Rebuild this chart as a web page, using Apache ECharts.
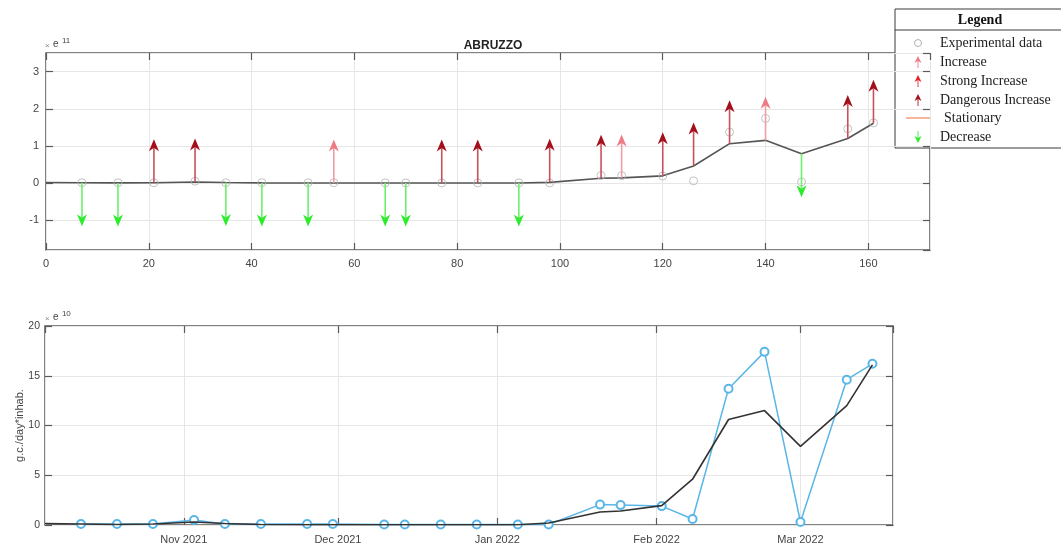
<!DOCTYPE html>
<html>
<head>
<meta charset="utf-8">
<title>ABRUZZO</title>
<script src="https://cdn.jsdelivr.net/npm/echarts@6/dist/echarts.min.js"></script>
<style>
  html, body { margin: 0; padding: 0; background: #fff; }
  #chart { width: 1061px; height: 548px; }
</style>
</head>
<body>
<div id="chart"></div>
<script>
// Sampling day 0 of the campaign
const START_DATE = Date.UTC(2021, 9, 5);
const END_DAY = 165;

// Sample days (days since start) with measured concentration, x 1e10 g.c./day*inhab.
const SAMPLE_DAYS = [7, 14, 21, 29, 35, 42, 51, 56, 66, 70, 77, 84, 92, 98, 108, 112, 120, 126, 133, 140, 147, 156, 161];
const MEASURED_E10 = [0.1, 0.1, 0.1, 0.5, 0.1, 0.1, 0.1, 0.1, 0.05, 0.05, 0.05, 0.05, 0.05, 0.05, 2.05, 2.0, 1.9, 0.6, 13.7, 17.4, 0.3, 14.6, 16.2];

// Smoothed trend, x 1e10
const TREND_DAYS = [0, 7, 14, 21, 29, 35, 42, 51, 56, 66, 70, 77, 84, 92, 98, 108, 112, 120, 126, 133, 140, 147, 156, 161];
const TREND_E10 = [0.15, 0.1, 0.05, 0.1, 0.3, 0.15, 0.05, 0.02, 0.02, 0.02, 0.02, 0.02, 0.02, 0.02, 0.2, 1.3, 1.4, 1.95, 4.6, 10.6, 11.5, 7.9, 12.0, 16.1];

// Trend classification at each sample day
const TREND_CLASS = ['Decrease', 'Decrease', 'Dangerous Increase', 'Dangerous Increase', 'Decrease', 'Decrease', 'Decrease',
  'Increase', 'Decrease', 'Decrease', 'Dangerous Increase', 'Dangerous Increase', 'Decrease', 'Dangerous Increase',
  'Dangerous Increase', 'Increase', 'Dangerous Increase', 'Dangerous Increase', 'Dangerous Increase', 'Increase',
  'Decrease', 'Dangerous Increase', 'Dangerous Increase'];

// Axis ticks
const TOP_X_TICKS = { min: 0, max: 172, interval: 20 };
const TOP_Y_RANGE = { min: -1.8, max: 3.5 };
const BOTTOM_Y_TICKS = { min: 0, max: 20, interval: 5 };

const LEGEND_ITEMS = ['Experimental data', 'Increase', 'Strong Increase', 'Dangerous Increase', 'Stationary', 'Decrease'];

// Arrow length on the classification panel, x 1e11
const ARROW_LEN = 1.17;

const DAY_MS = 86400000;
const toDate = d => START_DATE + d * DAY_MS;
const trendAt = d => TREND_E10[TREND_DAYS.indexOf(d)];

const ARROW_COLORS = {
  'Increase': { head: '#ee7c86', shaft: '#f29ca3' },
  'Strong Increase': { head: '#e3202c', shaft: '#e9616a' },
  'Dangerous Increase': { head: '#a30f1b', shaft: '#c8505a' },
  'Decrease': { head: '#2cec2c', shaft: '#6cf06c' }
};

function arrowSeries(name) {
  const data = [];
  SAMPLE_DAYS.forEach((d, i) => {
    if (TREND_CLASS[i] !== name) return;
    const base = trendAt(d) / 10;
    const tip = name === 'Decrease' ? base - ARROW_LEN : base + ARROW_LEN;
    data.push([d, base, tip]);
  });
  const col = ARROW_COLORS[name];
  return {
    name: name,
    type: 'custom',
    xAxisIndex: 0,
    yAxisIndex: 0,
    z: 5,
    data: data,
    encode: { x: 0, y: [1, 2] },
    renderItem: function (params, api) {
      const p0 = api.coord([api.value(0), api.value(1)]);
      const p1 = api.coord([api.value(0), api.value(2)]);
      const dir = p1[1] < p0[1] ? -1 : 1;
      const headLen = 12, halfW = 5, notch = 3.5;
      const bx = p1[0], by = p1[1] - dir * headLen;
      return {
        type: 'group',
        children: [
          { type: 'line', shape: { x1: p0[0], y1: p0[1], x2: bx, y2: by + dir * notch },
            style: { stroke: col.shaft, lineWidth: 1.6 } },
          { type: 'polygon', shape: { points: [
              [p1[0], p1[1]], [bx - halfW, by], [bx, by + dir * notch], [bx + halfW, by]] },
            style: { fill: col.head } }
        ]
      };
    }
  };
}

const axisFont = { fontFamily: 'Liberation Sans, Arial, sans-serif', fontSize: 11, color: '#444' };
const frameColor = '#5a5a5a';
const gridLine = { show: true, lineStyle: { color: '#e6e6e6', width: 1 } };
const hiddenLine = { show: false, onZero: false };
const innerTick = () => ({ show: true, inside: true, length: 7, lineStyle: { color: frameColor, width: 1.2 } });

const chart = echarts.init(document.getElementById('chart'), null, { renderer: 'canvas' });

// Legend drawn as a framed box with a header row
function legendGraphic() {
  const x0 = 895, y0 = 9, w = 172, h = 139;
  const rowY = [43, 62, 81, 100, 118, 137];
  const children = [
    { type: 'rect', shape: { x: x0, y: y0, width: w, height: h }, style: { fill: '#fff', stroke: '#3a3a3a', lineWidth: 1 } },
    { type: 'line', shape: { x1: x0, y1: 30, x2: x0 + w, y2: 30 }, style: { stroke: '#3a3a3a', lineWidth: 1 } },
    { type: 'text', x: 980, y: 20, style: { text: 'Legend', font: 'bold 14px "Liberation Serif", "Times New Roman", serif',
      fill: '#111', align: 'center', verticalAlign: 'middle' } }
  ];
  const ix = 918;
  function arrowIcon(cy, name, up) {
    const col = ARROW_COLORS[name];
    const s = up ? -1 : 1;
    const tipY = cy + s * 6, baseY = cy - s * 6;
    return [
      { type: 'line', shape: { x1: ix, y1: baseY, x2: ix, y2: tipY - s * 3 }, style: { stroke: col.shaft, lineWidth: 1.2 } },
      { type: 'polygon', shape: { points: [[ix, tipY], [ix - 3.5, tipY - s * 7], [ix, tipY - s * 5], [ix + 3.5, tipY - s * 7]] },
        style: { fill: col.head } }
    ];
  }
  children.push({ type: 'circle', shape: { cx: ix, cy: rowY[0], r: 3.5 }, style: { fill: 'none', stroke: '#b0b0b0', lineWidth: 1 } });
  children.push(...arrowIcon(rowY[1], 'Increase', true));
  children.push(...arrowIcon(rowY[2], 'Strong Increase', true));
  children.push(...arrowIcon(rowY[3], 'Dangerous Increase', true));
  children.push({ type: 'line', shape: { x1: 906, y1: rowY[4], x2: 931, y2: rowY[4] }, style: { stroke: '#f4a582', lineWidth: 1.6 } });
  children.push(...arrowIcon(rowY[5], 'Decrease', false));
  LEGEND_ITEMS.forEach((t, i) => {
    children.push({ type: 'text', x: t === 'Stationary' ? 944 : 940, y: rowY[i], style: {
      text: t, font: '14px "Liberation Serif", "Times New Roman", serif', fill: '#222', verticalAlign: 'middle' } });
  });
  return { type: 'group', z: 100, children: children };
}

function multiplierText(x, y, exp) {
  return {
    type: 'text', x: x, y: y, z: 50,
    style: {
      text: '{m|×} {e|e} {p|' + exp + '}',
      rich: {
        m: { fontSize: 8, fill: '#888', fontFamily: 'Liberation Sans, Arial, sans-serif', padding: [4, 0, 0, 0] },
        e: { fontSize: 10, fill: '#444', fontFamily: 'Liberation Sans, Arial, sans-serif' },
        p: { fontSize: 8, fill: '#444', fontFamily: 'Liberation Sans, Arial, sans-serif', padding: [0, 0, 6, 0] }
      }
    }
  };
}

const option = {
  useUTC: true,
  animation: false,
  backgroundColor: '#fff',
  title: {
    text: 'ABRUZZO', left: 488, top: 35, textAlign: 'center',
    textStyle: { fontFamily: 'Liberation Sans, Arial, sans-serif', fontWeight: 'bold', fontSize: 12, color: '#222' }
  },
  grid: [
    { left: 46, top: 53, width: 884, height: 197, show: true, borderColor: frameColor, borderWidth: 1.5,
      backgroundColor: '#fff', containLabel: false, outerBoundsMode: 'none' },
    { left: 45, top: 326, width: 848, height: 199, show: true, borderColor: frameColor, borderWidth: 1.5,
      backgroundColor: '#fff', containLabel: false, outerBoundsMode: 'none' }
  ],
  xAxis: [
    { type: 'value', gridIndex: 0, min: TOP_X_TICKS.min, max: TOP_X_TICKS.max, interval: TOP_X_TICKS.interval,
      axisLine: hiddenLine, axisTick: innerTick(), splitLine: gridLine,
      axisLabel: Object.assign({ margin: 8, showMaxLabel: false }, axisFont) },
    { type: 'value', gridIndex: 0, position: 'top', min: TOP_X_TICKS.min, max: TOP_X_TICKS.max, interval: TOP_X_TICKS.interval,
      axisLine: hiddenLine, axisTick: innerTick(), splitLine: { show: false }, axisLabel: { show: false } },
    { type: 'time', gridIndex: 1, min: toDate(0), max: toDate(END_DAY), splitNumber: 5,
      axisLine: hiddenLine, axisTick: innerTick(), splitLine: gridLine,
      axisLabel: Object.assign({ margin: 9, showMinLabel: false, showMaxLabel: false,
        formatter: v => echarts.time.format(v, '{MMM} {yyyy}', true) }, axisFont) },
    { type: 'time', gridIndex: 1, position: 'top', min: toDate(0), max: toDate(END_DAY), splitNumber: 5,
      axisLine: hiddenLine, axisTick: innerTick(), splitLine: { show: false }, axisLabel: { show: false } }
  ],
  yAxis: [
    { type: 'value', gridIndex: 0, min: TOP_Y_RANGE.min, max: TOP_Y_RANGE.max, splitNumber: 5,
      axisLine: hiddenLine, axisTick: innerTick(), splitLine: gridLine,
      axisLabel: Object.assign({ margin: 7, showMinLabel: false, showMaxLabel: false }, axisFont) },
    { type: 'value', gridIndex: 0, position: 'right', min: TOP_Y_RANGE.min, max: TOP_Y_RANGE.max, splitNumber: 5,
      axisLine: hiddenLine, axisTick: innerTick(), splitLine: { show: false }, axisLabel: { show: false } },
    { type: 'value', gridIndex: 1, min: BOTTOM_Y_TICKS.min, max: BOTTOM_Y_TICKS.max, interval: BOTTOM_Y_TICKS.interval,
      name: 'g.c./day*inhab.', nameLocation: 'middle', nameRotate: 90, nameGap: 20, nameMoveOverlap: false,
      nameTextStyle: { fontFamily: 'Liberation Sans, Arial, sans-serif', fontSize: 11, color: '#444' },
      axisLine: hiddenLine, axisTick: innerTick(), splitLine: gridLine,
      axisLabel: Object.assign({ margin: 5 }, axisFont, { fontSize: 10.5 }) },
    { type: 'value', gridIndex: 1, position: 'right', min: BOTTOM_Y_TICKS.min, max: BOTTOM_Y_TICKS.max, interval: BOTTOM_Y_TICKS.interval,
      axisLine: hiddenLine, axisTick: innerTick(), splitLine: { show: false }, axisLabel: { show: false } }
  ],
  graphic: [
    multiplierText(45, 37, '11'),
    multiplierText(45, 310, '10'),
    legendGraphic()
  ],
  series: [
    { name: 'Trend', type: 'line', xAxisIndex: 0, yAxisIndex: 0, z: 3,
      data: TREND_DAYS.map((d, i) => [d, TREND_E10[i] / 10]),
      symbol: 'none', lineStyle: { color: '#555', width: 1.6 } },
    { name: 'Experimental data', type: 'scatter', xAxisIndex: 0, yAxisIndex: 0, z: 4,
      data: SAMPLE_DAYS.map((d, i) => [d, MEASURED_E10[i] / 10]),
      symbol: 'circle', symbolSize: 8,
      itemStyle: { color: 'rgba(0,0,0,0)', borderColor: '#b4b4b4', borderWidth: 1 } },
    arrowSeries('Increase'),
    arrowSeries('Strong Increase'),
    arrowSeries('Dangerous Increase'),
    arrowSeries('Decrease'),
    { name: 'Measured', type: 'line', xAxisIndex: 2, yAxisIndex: 2, z: 3,
      data: SAMPLE_DAYS.map((d, i) => [toDate(d), MEASURED_E10[i]]),
      symbol: 'emptyCircle', symbolSize: 8,
      lineStyle: { color: '#5ab6e6', width: 1.5 },
      itemStyle: { color: '#5ab6e6', borderColor: '#5ab6e6', borderWidth: 1 } },
    { name: 'Trend (time)', type: 'line', xAxisIndex: 2, yAxisIndex: 2, z: 4,
      data: TREND_DAYS.map((d, i) => [toDate(d), TREND_E10[i]]),
      symbol: 'none', lineStyle: { color: '#333', width: 1.6 } }
  ]
};

chart.setOption(option);
</script>
</body>
</html>
